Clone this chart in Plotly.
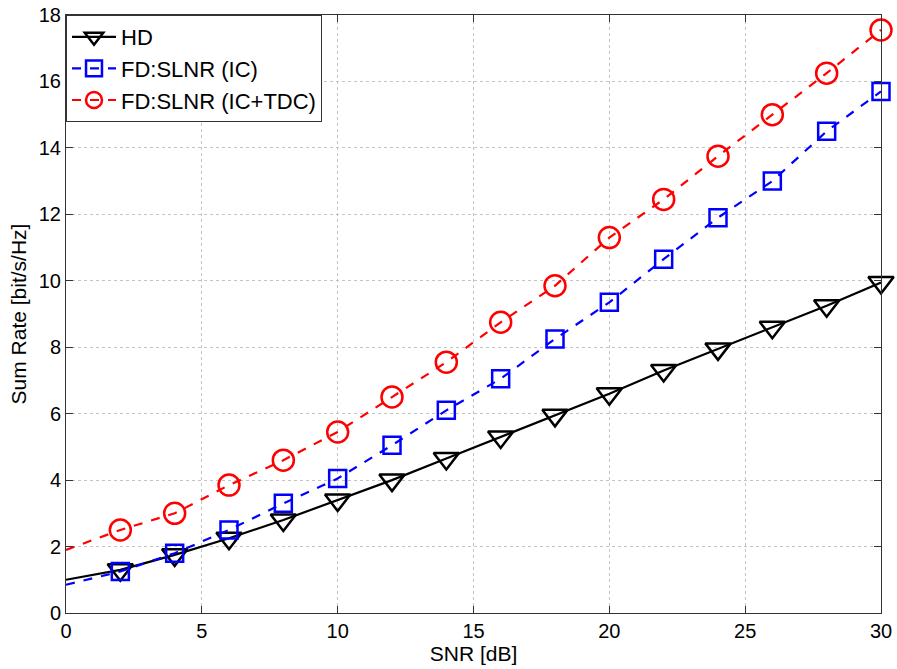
import plotly.graph_objects as go

snr = [0, 2, 4, 6, 8, 10, 12, 14, 16, 18, 20, 22, 24, 26, 28, 30]
hd = [1.0, 1.3, 1.75, 2.25, 2.8, 3.4, 4.0, 4.65, 5.3, 5.95, 6.6, 7.3, 7.95, 8.6, 9.25, 9.95]
fd_ic = [0.85, 1.25, 1.8, 2.5, 3.3, 4.05, 5.05, 6.1, 7.05, 8.25, 9.35, 10.65, 11.9, 13.0, 14.5, 15.7]
fd_ictdc = [1.9, 2.5, 3.0, 3.85, 4.6, 5.45, 6.5, 7.55, 8.75, 9.85, 11.3, 12.45, 13.75, 15.0, 16.25, 17.55]

names = ["HD", "FD:SLNR (IC)", "FD:SLNR (IC+TDC)"]
xticks = [0, 5, 10, 15, 20, 25, 30]
yticks = [0, 2, 4, 6, 8, 10, 12, 14, 16, 18]

FONT = "Liberation Sans, Arial"
fig = go.Figure()
specs = [
    (hd, names[0], "black", "solid", "triangle-down-open", 22),
    (fd_ic, names[1], "blue", "dash", "square-open", 17),
    (fd_ictdc, names[2], "red", "dash", "circle-open", 21),
]
for i, (ys, nm, col, dash, sym, sz) in enumerate(specs):
    sizes = [0] + [sz] * (len(snr) - 1)
    fig.add_trace(go.Scatter(
        x=snr, y=ys, name=nm, mode="lines+markers", legendgroup=f"g{i}",
        line=dict(color=col, width=2.2, dash=dash),
        marker=dict(symbol=sym, size=sizes, color=col, opacity=1,
                    line=dict(width=2.5, color=col)),
        cliponaxis=False,
    ))

axis_common = dict(
    showline=True, linecolor="#333333", linewidth=1, mirror="ticks",
    ticks="inside", ticklen=7, tickcolor="#333333",
    showgrid=True, gridcolor="#c4c4c4", griddash="dot", gridwidth=1,
    zeroline=False, automargin=False,
    tickfont=dict(family=FONT, size=20, color="black"),
)
fig.update_xaxes(range=[0, 30], tickvals=xticks,
                 title_text="SNR [dB]", title_font=dict(family=FONT, size=21, color="black"),
                 title_standoff=0, **axis_common)
fig.update_yaxes(range=[0, 18], tickvals=yticks,
                 title_text="Sum Rate [bit/s/Hz]", title_font=dict(family=FONT, size=21, color="black"),
                 title_standoff=6, **axis_common)

fig.update_layout(
    width=897, height=669,
    margin=dict(l=66, r=16, t=15, b=56),
    plot_bgcolor="white", paper_bgcolor="white",
    font=dict(family=FONT, color="black"),
    legend=dict(x=0, y=1, xanchor="left", yanchor="top", bgcolor="white",
                bordercolor="#333333", borderwidth=1,
                font=dict(family=FONT, size=22, color="black"),
                tracegroupgap=0, itemwidth=44),
    showlegend=True,
)
fig.write_html("out.html")
